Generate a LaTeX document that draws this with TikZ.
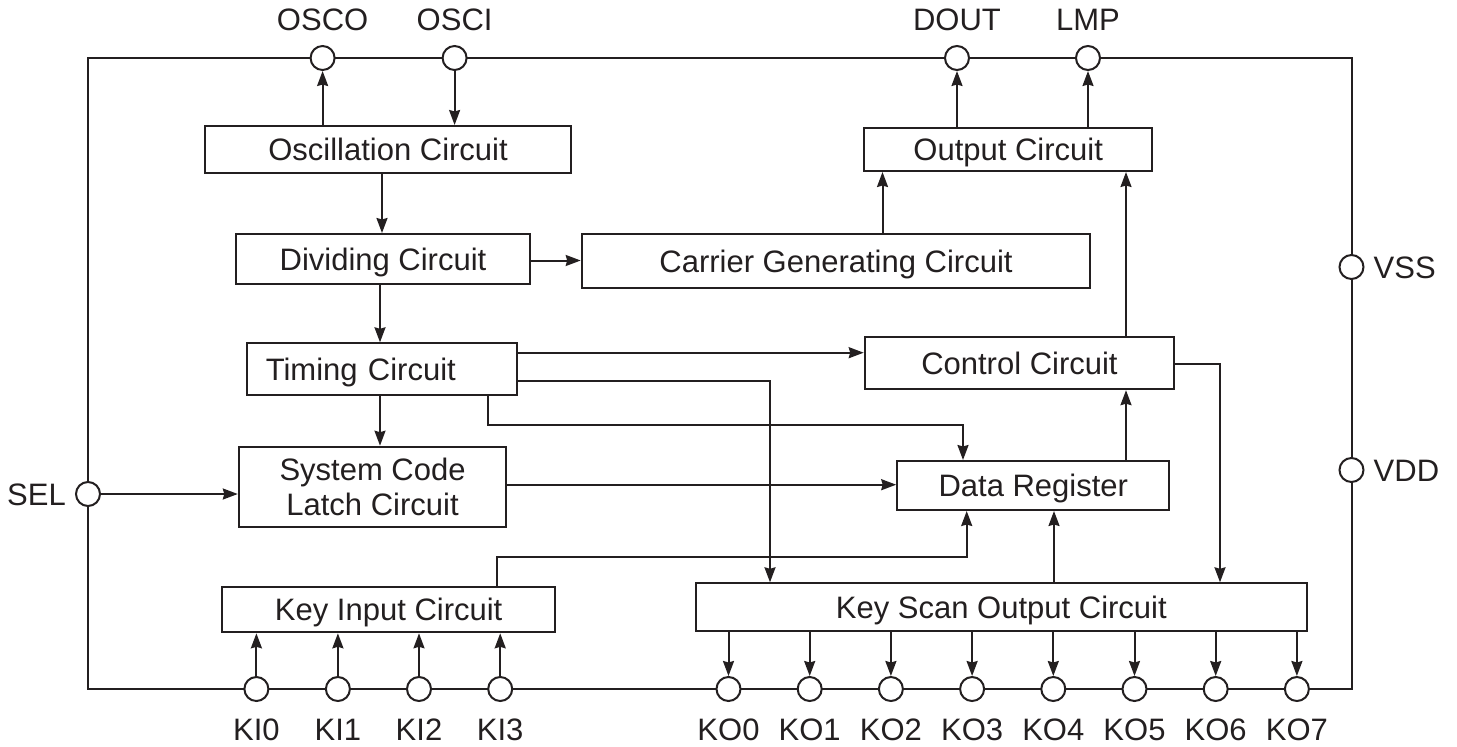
\documentclass[tikz,border=0pt]{standalone}
\usepackage{fontspec}
\setmainfont{Liberation Sans}
\usetikzlibrary{arrows.meta}
\definecolor{ink}{RGB}{35,31,32}
\begin{document}
\begin{tikzpicture}[x=1pt,y=-1pt,
  every node/.style={font=\fontsize{31}{35}\selectfont, text=ink},
  wire/.style={draw=ink, line width=2pt},
  arr/.style={wire, -{Stealth[length=15pt,width=11pt,inset=1.5pt]}},
  blk/.style={draw=ink, line width=2pt, rectangle, inner sep=0pt, fill=white},
  one/.style={blk, text height=22.5pt, text depth=0pt},
  pin/.style={circle, draw=ink, line width=2pt, fill=white, minimum size=24pt, inner sep=0pt},
  lbl/.style={inner sep=0pt, text height=22.5pt, text depth=0pt}
]
\useasboundingbox (0,0) rectangle (1457,747);

% outer frame
\coordinate (fTL) at (88,58);
\coordinate (fBR) at (1351.5,689);
\draw[wire] (fTL) rectangle (fBR);

% blocks
\node[one, minimum width=366.7pt, minimum height=47pt] (osc) at (388.05,149.5) {Oscillation Circuit};
\node[one, minimum width=294pt, minimum height=50pt] (div) at (383,259) {Dividing Circuit};
\node[one, minimum width=508.6pt, minimum height=54pt] (carrier) at (836,261) {Carrier Generating Circuit};
\node[one, minimum width=287.6pt, minimum height=43pt] (output) at (1008.2,149.5) {Output Circuit};
\node[one, minimum height=52pt, inner xsep=19pt, text width=232.6pt, align=left] (timing) at (382.1,369.3) {Timing Circuit};
\node[one, minimum width=309.5pt, minimum height=52.2pt] (control) at (1019.45,363.1) {Control Circuit};
\node[blk, minimum width=267.5pt, minimum height=80.6pt, align=center] (latch) at (372.55,487) {System Code\\Latch Circuit};
\node[one, minimum width=272.2pt, minimum height=49pt] (datareg) at (1033.3,485.5) {Data Register};
\node[one, minimum width=333.3pt, minimum height=45.6pt] (keyin) at (388.65,609.5) {Key Input Circuit};
\node[one, minimum width=610.7pt, minimum height=47.7pt] (keyscan) at (1001.35,607.15) {Key Scan Output Circuit};

% pins
\node[pin, label={[lbl, label distance=14pt]above:OSCO}] (osco) at (322.6,58) {};
\node[pin, label={[lbl, label distance=14pt]above:OSCI}] (osci) at (454.6,58) {};
\node[pin, label={[lbl, label distance=14pt]above:DOUT}] (dout) at (957,58) {};
\node[pin, label={[lbl, label distance=14pt]above:LMP}] (lmp) at (1088,58) {};
\node[pin, label={[lbl, label distance=9pt]right:VSS}] (vss) at (1351.5,267) {};
\node[pin, label={[lbl, label distance=9pt]right:VDD}] (vdd) at (1351.5,470) {};
\node[pin, label={[lbl, label distance=9pt]left:SEL}] (sel) at (88,494) {};
\foreach \i/\x in {0/256.4,1/337.9,2/419,3/500.2}{
  \node[pin, label={[lbl, label distance=16pt]below:KI\i}] (ki\i) at (\x,689) {};
}
\foreach \i in {0,...,7}{
  \node[pin, label={[lbl, label distance=16pt]below:KO\i}] (ko\i) at ({728.5+81.2*\i},689) {};
}

% connectors
\draw[arr] (osco |- osc.north) -- (osco);
\draw[arr] (osci) -- (osci |- osc.north);
\draw[arr] (382,0 |- osc.south) -- (382,0 |- div.north);
\draw[arr] (div.east |- 0,260.5) -- (carrier.west |- 0,260.5);
\draw[arr] (380,0 |- div.south) -- (380,0 |- timing.north);
\draw[arr] (882.5,0 |- carrier.north) -- (882.5,0 |- output.south);
\draw[arr] (dout |- output.north) -- (dout);
\draw[arr] (lmp |- output.north) -- (lmp);
\draw[arr] (timing.east |- 0,352.7) -- (control.west |- 0,352.7);
\draw[arr] (timing.east |- 0,381) -| (770,0 |- keyscan.north);
\draw[arr] (488,0 |- timing.south) |- (963,425.3) -- (963,0 |- datareg.north);
\draw[arr] (380,0 |- timing.south) -- (380,0 |- latch.north);
\draw[arr] (sel) -- (sel -| latch.west);
\draw[arr] (latch.east |- 0,484.7) -- (datareg.west |- 0,484.7);
\draw[arr] (496.7,0 |- keyin.north) |- (966.7,556.5) -- (966.7,0 |- datareg.south);
\draw[arr] (1054,0 |- keyscan.north) -- (1054,0 |- datareg.south);
\draw[arr] (1126,0 |- datareg.north) -- (1126,0 |- control.south);
\draw[arr] (1126,0 |- control.north) -- (1126,0 |- output.south);
\draw[arr] (control.east |- 0,364) -| (1220,0 |- keyscan.north);
\foreach \i in {0,...,3}{
  \draw[arr] (ki\i) -- (ki\i |- keyin.south);
}
\foreach \i in {0,...,7}{
  \draw[arr] (ko\i |- keyscan.south) -- (ko\i);
}
\end{tikzpicture}
\end{document}
